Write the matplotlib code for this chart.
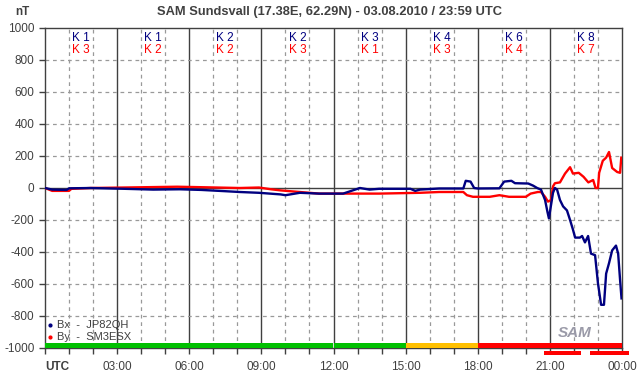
import numpy as np
import matplotlib.pyplot as plt

plt.rcParams['font.family'] = ['Liberation Sans', 'DejaVu Sans']

# Bx (JP82QH), hours UTC / nT
bx_h = [0, 0.3, 0.9, 1.0, 1.9, 3.3, 4.5, 5.6, 6.5, 7.5, 8.1, 8.9, 9.8, 10.0, 10.2,
        10.6, 11.4, 12.4, 12.7, 13.1, 13.5, 13.9, 15.2, 15.4, 15.6, 16.4, 17.4, 17.5,
        17.7, 17.85, 18.0, 18.9, 19.1, 19.4, 19.55, 20.1, 20.3, 20.47, 20.63, 20.8,
        20.9, 20.96, 21.05, 21.13, 21.21, 21.3, 21.42, 21.55, 21.71, 21.84, 21.96,
        22.05, 22.25, 22.34, 22.46, 22.59, 22.71, 22.88, 23.0, 23.13, 23.25, 23.34,
        23.46, 23.59, 23.75, 23.84, 23.92, 23.98]
bx_v = [0, -10, -12, -2, 0, -5, -10, -8, -12, -20, -25, -30, -40, -45, -40,
        -30, -35, -35, -20, 0, -10, -5, -5, -18, -10, -3, -3, 45,
        40, 0, -3, -2, 40, 45, 30, 28, 15, 0, -10, -75,
        -150, -190, -105, -30, 0, -10, -75, -115, -140, -200, -260,
        -310, -310, -300, -340, -300, -410, -420, -595, -730, -730, -535,
        -470, -390, -360, -410, -575, -690]

# By (SM3ESX)
by_h = [0, 0.3, 1.0, 1.1, 1.9, 3.3, 5.5, 6.5, 8.1, 8.9, 9.4, 9.8, 10.6, 11.4, 13.9,
        15.6, 16.4, 17.4, 17.55, 17.8, 18.5, 18.9, 19.3, 20.0, 20.2, 20.5, 20.63,
        20.8, 20.92, 21.05, 21.13, 21.21, 21.42, 21.63, 21.84, 21.96, 22.2, 22.4,
        22.6, 22.8, 22.9, 23.0, 23.05, 23.2, 23.34, 23.46, 23.59, 23.8, 23.92, 23.97]
by_v = [0, -18, -18, -5, 0, 3, 8, 5, 0, 3, -8, -15, -25, -35, -35,
        -30, -25, -25, -45, -55, -55, -45, -55, -55, -35, -25, -25,
        -55, -85, -75, 10, 30, 35, 90, 130, 90, 95, 70,
        35, 50, 0, 0, 95, 170, 190, 225, 125, 100, 95, 190]

k_bx = [1, 1, 2, 2, 3, 4, 6, 8]
k_by = [3, 2, 2, 3, 1, 3, 4, 7]
status_colors = ['#00c000'] * 5 + ['#ffc000'] + ['#ff0000'] * 2
alert_spans = [(20.75, 22.3), (22.67, 24.3)]

xtick_labels = ['UTC', '03:00', '06:00', '09:00', '12:00', '15:00', '18:00', '21:00', '00:00']

dark = '#404040'
fig = plt.figure(figsize=(6.42, 3.76), dpi=100)
ax = fig.add_axes([45 / 642, 28 / 376, 577 / 642, 320 / 376])
ax.set_xlim(0, 24)
ax.set_ylim(-1000, 1000)

# grid
for h in range(1, 24):
    if h % 3:
        ax.axvline(h, color='#999999', lw=0.9, ls=(0, (3, 3)), zorder=1)
    else:
        ax.axvline(h, color=dark, lw=1.0, zorder=1)
for y in range(-800, 1000, 200):
    if y == 0:
        ax.axhline(0, color=dark, lw=1.0, zorder=1)
    else:
        ax.axhline(y, color='#999999', lw=0.9, ls=(0, (3, 3)), zorder=1)

ax.plot(by_h, by_v, color='#ff0000', lw=1.7, zorder=3)
ax.plot(bx_h, bx_v, color='#000080', lw=1.7, zorder=3)

# K indices
for i, (kb, kr) in enumerate(zip(k_bx, k_by)):
    xc = i * 3 + 1.5
    ax.text(xc, 940, f'K {kb}', color='#000080', ha='center', va='center', fontsize=8.5)
    ax.text(xc, 865, f'K {kr}', color='#ff0000', ha='center', va='center', fontsize=8.5)

# status bar
for i, c in enumerate(status_colors):
    ax.add_patch(plt.Rectangle((i * 3, -1000), 3, 32, color=c, zorder=4, lw=0))
for a, b in alert_spans:
    ax.add_patch(plt.Rectangle((a, -1045), b - a, 25, color='#ff0000', lw=0,
                               clip_on=False, zorder=5))

# legend
ax.plot([0.22], [-858], 'o', ms=2, color='#000080')
ax.plot([0.22], [-932], 'o', ms=2, color='#ff0000')
ax.text(0.5, -858, 'Bx  -  JP82QH', va='center', fontsize=8, color=dark)
ax.text(0.5, -932, 'By  -  SM3ESX', va='center', fontsize=8, color=dark)

# logo
ax.text(22.05, -905, 'SAM', fontsize=11, style='italic', fontweight='bold',
        color='#9a9aa8', ha='center', va='center')

ax.set_yticks(range(-1000, 1001, 200))
ax.set_yticklabels([str(v) for v in range(-1000, 1001, 200)])
ax.set_xticks(range(0, 25, 3))
ax.set_xticks(range(0, 25), minor=True)
ax.set_xticklabels(xtick_labels)
first = ax.get_xticklabels()[0]
first.set_fontweight('bold')
first.set_horizontalalignment('left')
ax.tick_params(axis='both', which='both', colors=dark, labelsize=8.5, length=4, width=1)
ax.tick_params(axis='x', pad=5)
for s in ax.spines.values():
    s.set_color(dark)
    s.set_linewidth(1.0)

fig.text(22 / 642, 1 - 12 / 376, 'nT', fontsize=8.5, fontweight='bold', color=dark,
         ha='center', va='center')
fig.text(330 / 642, 1 - 12 / 376, 'SAM Sundsvall (17.38E, 62.29N) - 03.08.2010 / 23:59 UTC',
         fontsize=9.3, fontweight='bold', color=dark, ha='center', va='center')

fig.savefig('out.png', dpi=100)
